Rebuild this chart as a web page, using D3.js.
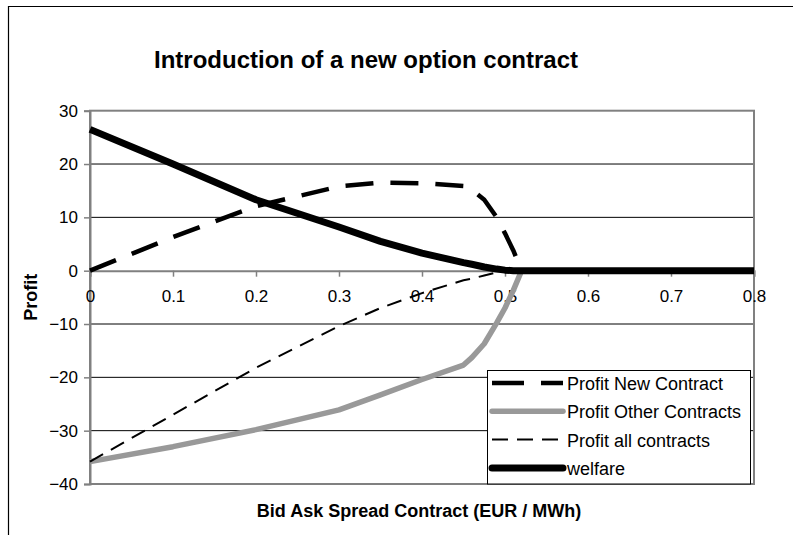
<!DOCTYPE html>
<html>
<head>
<meta charset="utf-8">
<script src="https://cdn.jsdelivr.net/npm/d3@7"></script>
<style>
  html, body { margin: 0; padding: 0; background: #fff; overflow: hidden; }
  svg { display: block; }
  text { font-family: "Liberation Sans", Arial, sans-serif; }
</style>
</head>
<body>
<script>
// spread values on the x axis (shared by all series)
var spread = [0, 0.1, 0.2, 0.3, 0.35, 0.4, 0.45, 0.46, 0.475, 0.49, 0.5, 0.51, 0.52, 0.6, 0.7, 0.8];

// series values
var profitNew    = [0, 6.3, 12.1, 15.8, 16.5, 16.4, 15.9, 15.2, 13.3, 10.0, 7.0, 3.8, 0, 0, 0, 0];
var profitOther  = [-35.8, -33.0, -29.8, -26.1, -23.3, -20.4, -17.7, -16.3, -13.7, -9.8, -7.0, -3.7, 0, 0, 0, 0];
var profitAll    = [-35.8, -27.0, -18.2, -10.4, -7.0, -4.2, -1.8, -1.5, -0.9, -0.3, 0, 0, 0, 0, 0, 0];
var welfare      = [26.5, 20.0, 13.3, 8.2, 5.5, 3.3, 1.5, 1.2, 0.7, 0.3, 0.1, 0, 0, 0, 0, 0];

var seriesNames = ["Profit New Contract", "Profit Other Contracts", "Profit all contracts", "welfare"];

// tick labels
var xTicks = [0, 0.1, 0.2, 0.3, 0.4, 0.5, 0.6, 0.7, 0.8];
var yTicks = [30, 20, 10, 0, -10, -20, -30, -40];

// set the dimensions of the page and the plot area
var width = 793, height = 535;
var plot = {left: 90, right: 754, top: 110.7, bottom: 484};

// set the ranges
var x = d3.scaleLinear().domain([0, 0.8]).range([plot.left, plot.right]);
var y = d3.scaleLinear().domain([-40, 30]).range([plot.bottom, plot.top]);

var svg = d3.select("body").append("svg")
    .attr("width", width)
    .attr("height", height);

// outer frame of the chart: only left and top edges are in the picture
svg.append("path")
    .attr("d", d3.line()([[8.5, height], [8.5, 6.5], [width, 6.5]]))
    .style("fill", "none")
    .style("stroke", "#000")
    .style("stroke-width", 1.2);

// title
svg.append("text")
    .attr("x", 366).attr("y", 68)
    .attr("text-anchor", "middle")
    .style("font-size", "24px")
    .style("font-weight", "bold")
    .text("Introduction of a new option contract");

// horizontal gridlines
svg.append("g")
  .selectAll("line")
  .data(yTicks.filter(function(d) { return d !== 0 && d !== 30 && d !== -40; }))
  .enter().append("line")
    .attr("x1", plot.left).attr("x2", plot.right)
    .attr("y1", function(d) { return y(d); })
    .attr("y2", function(d) { return y(d); })
    .style("stroke", "#000")
    .style("stroke-width", 1);

// plot area border
svg.append("rect")
    .attr("x", plot.left).attr("y", plot.top)
    .attr("width", plot.right - plot.left)
    .attr("height", plot.bottom - plot.top)
    .style("fill", "none")
    .style("stroke", "#808080")
    .style("stroke-width", 2);

// Add the Y Axis
var yAxis = svg.append("g")
    .attr("transform", "translate(" + plot.left + ",0)")
    .call(d3.axisLeft(y).tickValues(yTicks).tickSize(6).tickPadding(6).tickFormat(d3.format("d")));
yAxis.select(".domain").style("stroke", "#808080").style("stroke-width", 2);
yAxis.selectAll(".tick line").style("stroke", "#808080").style("stroke-width", 1.5);
yAxis.selectAll("text").style("font-size", "17px").style("font-family", "Liberation Sans, Arial").attr("fill", "#000");

// Add the X Axis (crosses at zero)
var xAxis = svg.append("g")
    .attr("transform", "translate(0," + y(0) + ")")
    .call(d3.axisBottom(x).tickValues(xTicks).tickSize(6).tickPadding(13).tickFormat(function(d) { return d === 0 ? "0" : d3.format(".1f")(d); }));
xAxis.select(".domain").style("stroke", "#808080").style("stroke-width", 2);
xAxis.selectAll(".tick line").style("stroke", "#808080").style("stroke-width", 1.5);
xAxis.selectAll("text").style("font-size", "17px").style("font-family", "Liberation Sans, Arial").attr("fill", "#000");

// axis titles
svg.append("text")
    .attr("x", 419).attr("y", 517)
    .attr("text-anchor", "middle")
    .style("font-size", "18px")
    .style("font-weight", "bold")
    .text("Bid Ask Spread Contract (EUR / MWh)");

svg.append("text")
    .attr("transform", "translate(37," + ((plot.top + plot.bottom) / 2) + ") rotate(-90)")
    .attr("text-anchor", "middle")
    .style("font-size", "18px")
    .style("font-weight", "bold")
    .text("Profit");

// line styles for each series
var styles = [
  {stroke: "#000", width: 4.5, dash: "28,17"},
  {stroke: "#999", width: 5.5, dash: null},
  {stroke: "#000", width: 2, dash: "15,9"},
  {stroke: "#000", width: 7, dash: null}
];
var allSeries = [profitNew, profitOther, profitAll, welfare];

var valueline = d3.line()
    .x(function(d) { return x(d[0]); })
    .y(function(d) { return y(d[1]); });

allSeries.forEach(function(vals, i) {
  svg.append("path")
    .datum(spread.map(function(s, j) { return [s, vals[j]]; }))
    .attr("d", valueline)
    .style("fill", "none")
    .style("stroke", styles[i].stroke)
    .style("stroke-width", styles[i].width)
    .style("stroke-linejoin", "round")
    .style("stroke-dasharray", styles[i].dash);
});

// legend
var legend = svg.append("g");
legend.append("rect")
    .attr("x", 487.5).attr("y", 370.5)
    .attr("width", 263).attr("height", 113.5)
    .style("fill", "#fff")
    .style("stroke", "#000")
    .style("stroke-width", 1);

seriesNames.forEach(function(name, i) {
  var ly = 383 + i * 28.3;
  legend.append("line")
    .attr("x1", 492).attr("x2", 563)
    .attr("y1", ly).attr("y2", ly)
    .style("stroke", styles[i].stroke)
    .style("stroke-width", styles[i].width)
    .style("stroke-linecap", styles[i].dash ? "butt" : "round")
    .style("stroke-dasharray", i === 0 ? "32,17" : (i === 2 ? "16,9" : null));
  legend.append("text")
    .attr("x", 567).attr("y", ly + 7)
    .style("font-size", "18px")
    .text(name);
});
</script>
</body>
</html>
